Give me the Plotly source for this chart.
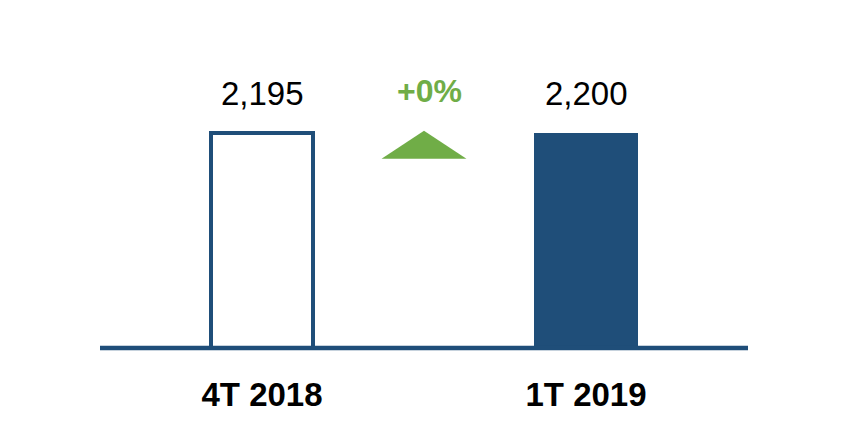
import plotly.graph_objects as go

categories = ["4T 2018", "1T 2019"]
values = [2195, 2200]

BLUE = "#1F4E79"
GREEN = "#70AD47"
FONT = "Liberation Sans"

change = (values[1] - values[0]) / values[0]
change_text = f"{change:+.0%}"
ymax = max(values)

fig = go.Figure()
fig.add_trace(go.Bar(
    x=[0], y=[values[0]], width=0.312,
    marker=dict(color="white", line=dict(color=BLUE, width=4)),
    hoverinfo="skip", showlegend=False,
))
fig.add_trace(go.Bar(
    x=[1], y=[values[1]], width=0.324,
    marker=dict(color=BLUE, line=dict(width=0)),
    hoverinfo="skip", showlegend=False,
))

# value labels
for i, v in enumerate(values):
    fig.add_annotation(x=i, y=v, text=f"{v:,}", showarrow=False,
                       yanchor="bottom", yshift=19,
                       font=dict(family=FONT, size=33, color="black"))

# baseline
fig.add_shape(type="line", xref="paper", x0=0, x1=1, yref="y", y0=0, y1=0,
              line=dict(color=BLUE, width=4.5), layer="above")

# change indicator triangle
mid = 0.5
half_w = 0.131
base_y = 0.88 * ymax
apex_y = 1.01 * ymax
fig.add_shape(type="path",
              path=f"M {mid-half_w} {base_y} L {mid+half_w} {base_y} L {mid} {apex_y} Z",
              xref="x", yref="y", fillcolor=GREEN, line=dict(width=0))
fig.add_annotation(x=mid, y=apex_y, text=change_text, showarrow=False,
                   yanchor="bottom", yshift=20, xshift=5,
                   font=dict(family=FONT, size=32, color=GREEN, weight="bold"))

fig.update_layout(
    width=842, height=433,
    margin=dict(l=100, r=94, t=33, b=80),
    paper_bgcolor="white", plot_bgcolor="white",
    bargap=0,
    xaxis=dict(range=[-0.5, 1.5], tickvals=[0, 1], ticktext=categories,
               showgrid=False, zeroline=False, showline=False,
               ticks="", ticklabelstandoff=19,
               tickfont=dict(family=FONT, size=33, color="black", weight="bold")),
    yaxis=dict(range=[-51.2, 3223], visible=False, showgrid=False, zeroline=False),
)

fig.write_html("out.html")
